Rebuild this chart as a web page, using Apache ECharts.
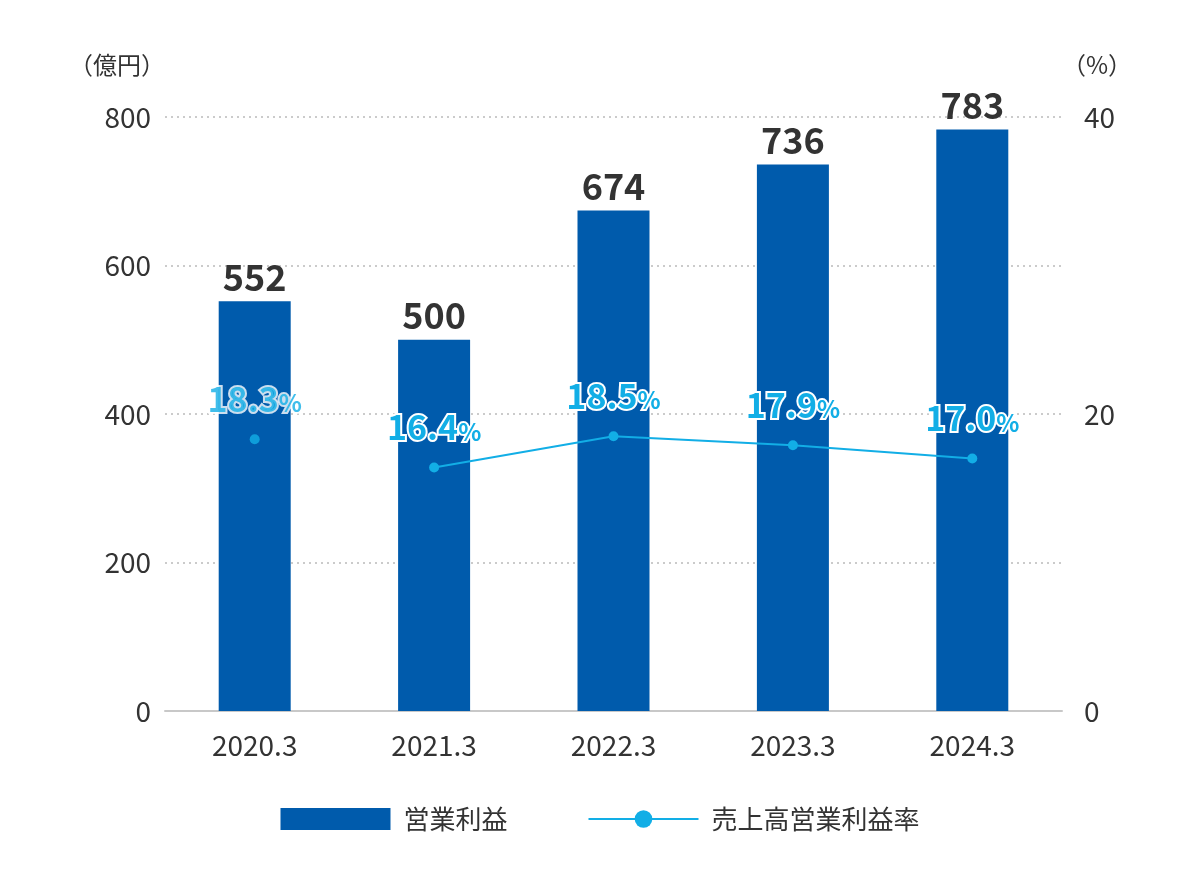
<!DOCTYPE html>
<html><head><meta charset="utf-8">
<script src="https://cdn.jsdelivr.net/npm/echarts@6/dist/echarts.min.js"></script>
<style>html,body{margin:0;padding:0;background:#fff}#c{width:1200px;height:869px}</style>
</head><body><div id="c"></div>
<script>
const categories = ['2020.3','2021.3','2022.3','2023.3','2024.3'];
const operatingProfit = [552, 500, 674, 736, 783];
const marginRate = [18.3, 16.4, 18.5, 17.9, 17.0];
const leftTicks = [0,200,400,600,800];
const rightTicks = [0,20,40];

const font = '"Noto Sans CJK JP", "Noto Sans", sans-serif';
const cyan = '#12aee6';
const blue = '#005bac';
const rateLabel = {
  show: true, position: 'top', distance: 18,
  formatter: p => '{a|' + p.value.toFixed(1) + '}{b|%}',
  rich: {
    a: {fontSize: 34, fontWeight: 'bold', color: cyan, fontFamily: font, textBorderColor: '#fff', textBorderWidth: 4},
    b: {fontSize: 24, fontWeight: 'bold', color: cyan, fontFamily: font, textBorderColor: '#fff', textBorderWidth: 4, padding: [8,0,0,0]}
  }
};
const chart = echarts.init(document.getElementById('c'));
chart.setOption({
  animation: false,
  grid: {left: 165, right: 138, top: 117, bottom: 158},
  legend: {
    bottom: 32, left: 'center', itemGap: 80, itemWidth: 110, itemHeight: 22,
    textStyle: {fontSize: 26, color: '#333', fontFamily: font, padding: [0,0,0,8]},
    data: [
      {name: '営業利益', icon: 'rect'},
      {name: '売上高営業利益率'}
    ]
  },
  xAxis: {
    type: 'category', data: categories,
    axisLine: {lineStyle: {color: '#c8c8c8', width: 2}},
    axisTick: {show: false},
    axisLabel: {fontSize: 28, color: '#333', fontFamily: font, margin: 20}
  },
  yAxis: [
    {type: 'value', min: 0, max: 800, interval: 200,
     name: '（億円）', nameLocation: 'end', nameGap: 40,
     nameTextStyle: {fontSize: 24, color: '#333', fontFamily: font, align: 'right', padding: [0,0,0,0]},
     axisLabel: {fontSize: 28, color: '#333', fontFamily: font, margin: 14},
     axisLine: {show: false}, axisTick: {show: false},
     splitLine: {lineStyle: {color: '#bbb', type: [2,4], width: 1.5}}},
    {type: 'value', min: 0, max: 40, interval: 20,
     name: '（%）', nameLocation: 'end', nameGap: 40,
     nameTextStyle: {fontSize: 24, color: '#333', fontFamily: font, align: 'left', padding: [0,0,0,0]},
     axisLabel: {fontSize: 28, color: '#333', fontFamily: font, margin: 22},
     axisLine: {show: false}, axisTick: {show: false}, splitLine: {show: false}}
  ],
  series: [
    {name: '営業利益', type: 'bar', data: operatingProfit, barWidth: 72,
     itemStyle: {color: blue},
     label: {show: true, position: 'top', distance: 6, fontSize: 36, fontWeight: 'bold', color: '#333', fontFamily: font}},
    {name: '売上高営業利益率', type: 'line', yAxisIndex: 1,
     data: marginRate.map((v,i) => i === 0 ? '-' : v),
     symbol: 'circle', symbolSize: 10, lineStyle: {color: cyan, width: 2},
     itemStyle: {color: cyan}, label: rateLabel, z: 5},
    {name: '売上高営業利益率', type: 'scatter', yAxisIndex: 1,
     data: marginRate.map((v,i) => i === 0 ? v : '-'),
     symbol: 'circle', symbolSize: 10, itemStyle: {color: cyan}, label: rateLabel, z: 5}
  ]
});
</script></body></html>
